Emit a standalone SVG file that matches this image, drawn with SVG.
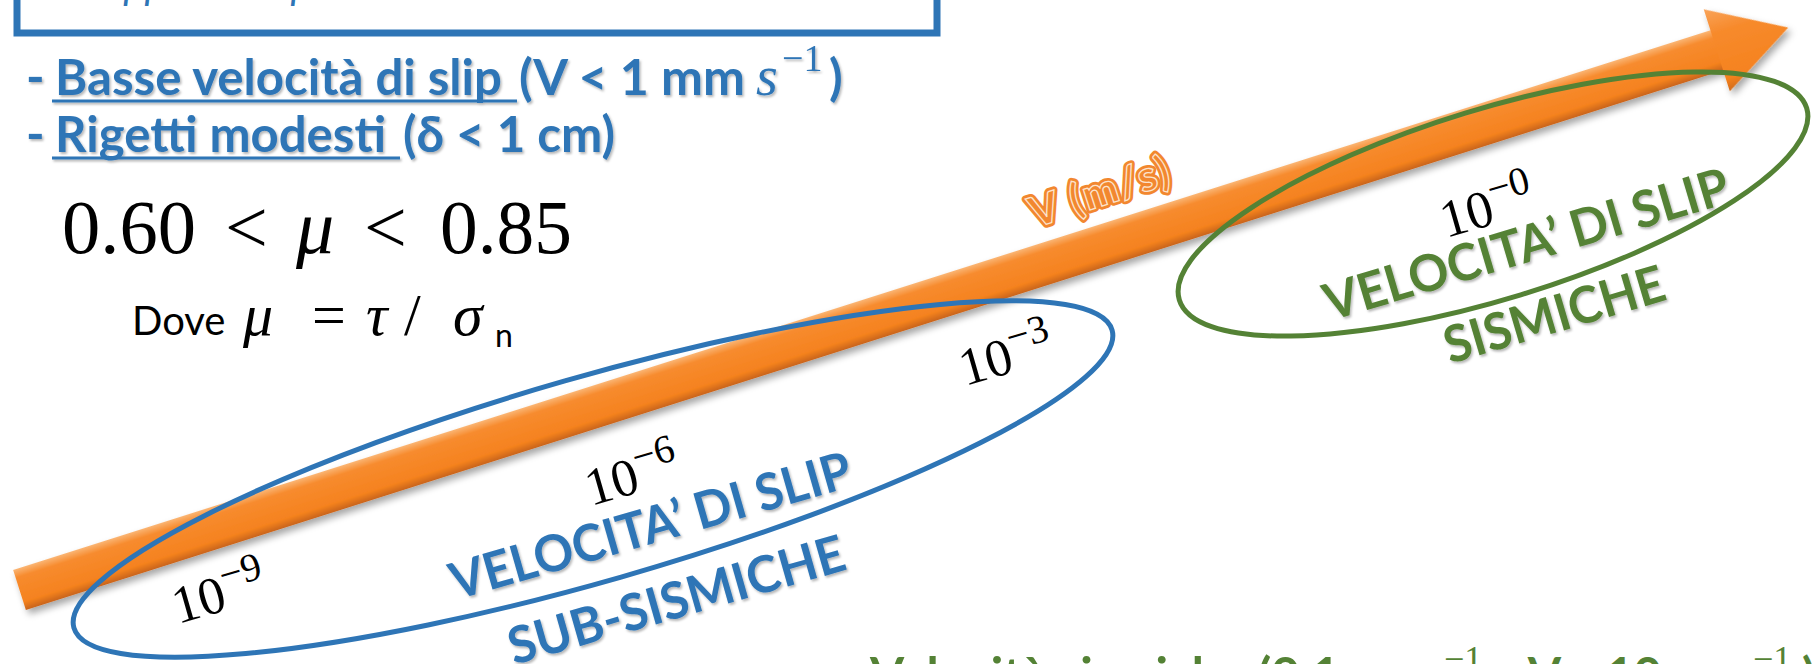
<svg xmlns="http://www.w3.org/2000/svg" width="1820" height="664" viewBox="0 0 1820 664">
<style>
  .blue{fill:#2E75B6}
  .green{fill:#548235}
  .sans{font-family:Lato,"Open Sans","Liberation Sans",sans-serif}
  .bold{font-weight:700}
  .math{font-family:"Liberation Serif","DejaVu Serif",serif}
  .it{font-style:italic}
  .tick{font-family:"Liberation Serif","DejaVu Serif",serif;font-size:53px;fill:#000}
  .lbl{font-family:Lato,"Open Sans","Liberation Sans",sans-serif;font-weight:700;font-size:51px}
  .ell{fill:none;stroke-width:5}
</style>
<defs>
  <linearGradient id="shaftG" x1="0" y1="-21" x2="0" y2="21" gradientUnits="userSpaceOnUse">
    <stop offset="0" stop-color="#FAB574"/>
    <stop offset="0.2" stop-color="#F78B2E"/>
    <stop offset="0.8" stop-color="#F5821F"/>
    <stop offset="1" stop-color="#C8641B"/>
  </linearGradient>
  <linearGradient id="headG" x1="0" y1="-43" x2="0" y2="43" gradientUnits="userSpaceOnUse">
    <stop offset="0" stop-color="#F9A45A"/>
    <stop offset="0.3" stop-color="#F78A2C"/>
    <stop offset="0.85" stop-color="#F5821F"/>
    <stop offset="1" stop-color="#D06A1C"/>
  </linearGradient>
  <filter id="shadow" x="-5%" y="-80%" width="110%" height="260%">
    <feDropShadow dx="2" dy="5" stdDeviation="3.5" flood-color="#000" flood-opacity="0.35"/>
  </filter>
  <filter id="tshadow" x="-10%" y="-30%" width="120%" height="160%">
    <feDropShadow dx="1.5" dy="2" stdDeviation="1.2" flood-color="#000" flood-opacity="0.28"/>
  </filter>
</defs>
<rect width="1820" height="664" fill="#fff"/>

<g id="title-box">
  <rect x="17" y="-100" width="920" height="133" fill="#fff" stroke="#2E75B6" stroke-width="7"/>
  <text x="98" y="-1" class="sans blue it" font-size="40">Approccio sperimentale in laboratorio</text>
</g>

<g id="bullets" filter="url(#tshadow)">
  <text y="95" class="sans bold blue" font-size="50">
    <tspan x="26">-</tspan>
    <tspan x="55" textLength="447" lengthAdjust="spacingAndGlyphs">Basse velocità di slip</tspan>
    <tspan x="519" textLength="226" lengthAdjust="spacingAndGlyphs">(V &lt; 1 mm</tspan>
    <tspan x="756" class="math it" font-weight="400" font-size="56">s</tspan>
    <tspan x="782" y="71" class="math" font-weight="400" font-size="38">−1</tspan>
    <tspan x="829" y="95">)</tspan>
  </text>
  <line x1="52" y1="101" x2="517" y2="101" stroke="#2E75B6" stroke-width="3"/>
  <text y="152" class="sans bold blue" font-size="50">
    <tspan x="26">-</tspan>
    <tspan x="55" textLength="331" lengthAdjust="spacingAndGlyphs">Rigetti modesti</tspan>
    <tspan x="403" textLength="212" lengthAdjust="spacingAndGlyphs">(δ &lt; 1 cm)</tspan>
  </text>
  <line x1="52" y1="158" x2="400" y2="158" stroke="#2E75B6" stroke-width="3"/>
</g>

<g id="friction">
  <text y="253" class="math" font-size="76" fill="#000">
    <tspan x="62" textLength="134" lengthAdjust="spacingAndGlyphs">0.60</tspan>
    <tspan x="225">&lt;</tspan>
    <tspan x="296" class="it">μ</tspan>
    <tspan x="364">&lt;</tspan>
    <tspan x="440" textLength="132" lengthAdjust="spacingAndGlyphs">0.85</tspan>
  </text>
  <text y="335" fill="#000">
    <tspan x="132" class="sans" font-size="40">Dove</tspan>
    <tspan x="243" class="math it" font-size="60">μ</tspan>
    <tspan x="312" class="math" font-size="60">=</tspan>
    <tspan x="366" class="math it" font-size="60">τ</tspan>
    <tspan x="404" class="math" font-size="60">/</tspan>
    <tspan x="453" class="math it" font-size="60">σ</tspan>
    <tspan x="495" y="347" class="sans" font-size="32">n</tspan>
  </text>
</g>

<g id="axis">
  <g transform="translate(19.5,590) rotate(-17.64)" filter="url(#shadow)">
    <path d="M0,-21 H1782 V21 H0 Z" fill="url(#shaftG)"/>
    <path d="M1781,-43 L1856,0 L1781,43 Z" fill="url(#headG)"/>
  </g>
  <g transform="translate(1035,228) rotate(-18)" font-family="Lato,'Open Sans',sans-serif" font-weight="900" font-size="42" letter-spacing="2">
    <text x="0" y="0" fill="#F2872F" stroke="#F2872F" stroke-width="7" stroke-linejoin="round">V (m/s)</text>
    <text x="0" y="0" fill="#F2872F" stroke="#FCE3CC" stroke-width="1.3">V (m/s)</text>
  </g>
</g>

<g id="sub-seismic">
  <ellipse cx="593" cy="479" rx="540" ry="102" transform="rotate(-16 593 479)" class="ell" stroke="#2E75B6"/>
  <g filter="url(#tshadow)" class="blue">
    <text class="lbl" transform="translate(456,600) rotate(-16)" textLength="415" lengthAdjust="spacingAndGlyphs">VELOCITA’ DI SLIP</text>
    <text class="lbl" transform="translate(514,665) rotate(-16)" textLength="348" lengthAdjust="spacingAndGlyphs">SUB-SISMICHE</text>
  </g>
</g>

<g id="seismic">
  <ellipse cx="1493" cy="204" rx="328" ry="95" transform="rotate(-17 1493 204)" class="ell" stroke="#548235"/>
  <g filter="url(#tshadow)" class="green">
    <text class="lbl" transform="translate(1330,321) rotate(-16.5)" textLength="420" lengthAdjust="spacingAndGlyphs">VELOCITA’ DI SLIP</text>
    <text class="lbl" transform="translate(1450,364) rotate(-16.5)" textLength="228" lengthAdjust="spacingAndGlyphs">SISMICHE</text>
  </g>
</g>

<g id="ticks">
  <text class="tick" transform="translate(178,624) rotate(-16)">10<tspan dy="-21" font-size="40">−9</tspan></text>
  <text class="tick" transform="translate(591,506) rotate(-16)">10<tspan dy="-21" font-size="40">−6</tspan></text>
  <text class="tick" transform="translate(965,386) rotate(-16)">10<tspan dy="-21" font-size="40">−3</tspan></text>
  <text class="tick" transform="translate(1446,238) rotate(-16)">10<tspan dy="-21" font-size="40">−0</tspan></text>
</g>

<g id="seismic-note" class="sans bold green" font-size="48">
  <text y="692">
    <tspan x="870" textLength="470" lengthAdjust="spacingAndGlyphs">Velocità sismiche (0.1</tspan>
    <tspan x="1352">m</tspan>
    <tspan x="1408" class="math it" font-weight="400" font-size="50">s</tspan>
    <tspan x="1444" y="671" class="math" font-weight="400" font-size="36">−1</tspan>
    <tspan x="1490" y="692">&lt; V &lt;</tspan>
    <tspan x="1606">10</tspan>
    <tspan x="1664">m</tspan>
    <tspan x="1718" class="math it" font-weight="400" font-size="50">s</tspan>
    <tspan x="1753" y="671" class="math" font-weight="400" font-size="36">−1</tspan>
    <tspan x="1802" y="692">)</tspan>
  </text>
</g>
</svg>
